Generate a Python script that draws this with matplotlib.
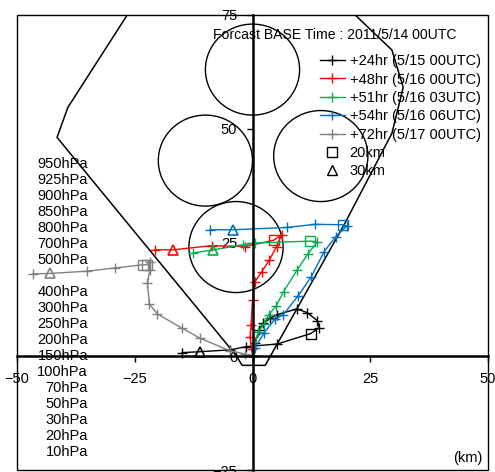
import matplotlib
matplotlib.use("Agg")
import matplotlib.pyplot as plt
from matplotlib.patches import Circle, Rectangle

plt.rcParams['font.family'] = ['Liberation Sans', 'DejaVu Sans']

# hodograph tracks (km), one point per level
black_x = [0, 0.6, 1.4, 2.3, 3.7, 5.1, 9.4, 11.6, 13.8, 14.2, 12.4, 5.3, -1.4, -4.8, -11.1, -15.0]
black_y = [0, 3.0, 5.8, 7.2, 8.3, 9.1, 10.4, 9.6, 7.8, 6.3, 5.0, 2.7, 2.1, 1.4, 1.0, 0.8]
black_sq = [10]
black_tri = [14]

red_x = [0, -0.2, -0.5, -0.3, 0.0, 0.5, 2.0, 3.6, 5.1, 6.2, 4.5, -1.6, -8.7, -16.8, -20.7]
red_y = [0, 1.5, 4.3, 6.9, 12.4, 16.4, 18.6, 21.2, 24.1, 26.7, 25.5, 24.1, 24.3, 23.4, 23.4]
red_sq = [10]
red_tri = [13]

green_x = [0, 1.2, 2.5, 3.4, 5.0, 6.6, 9.5, 11.7, 13.8, 12.2, 0.6, -2.0, -8.3, -12.6]
green_y = [0, 5.4, 7.1, 9.1, 11.0, 14.2, 19.0, 22.4, 25.2, 25.3, 24.9, 24.5, 23.4, 22.7]
green_sq = [9]
green_tri = [12]

blue_x = [0, 0.5, 2.5, 4.8, 6.5, 9.7, 12.5, 15.2, 17.7, 20.0, 19.3, 13.3, 7.3, -4.1, -9.0]
blue_y = [0, 1.8, 5.2, 8.2, 9.1, 13.3, 17.5, 23.0, 26.3, 28.6, 28.9, 29.0, 28.3, 27.8, 27.8]
blue_sq = [10]
blue_tri = [13]

gray_x = [0, -1.6, -4.8, -11.2, -15.0, -20.2, -21.9, -22.3, -21.8, -21.8, -22.4, -23.3, -29.2, -35.1, -43.0, -46.7]
gray_y = [0, 0.5, 1.2, 4.0, 6.2, 9.3, 11.5, 16.0, 19.0, 20.8, 20.1, 20.1, 19.4, 18.7, 18.2, 18.1]
gray_sq = [10, 11]
gray_tri = [14]

labels = ['+24hr (5/15 00UTC)', '+48hr (5/16 00UTC)', '+51hr (5/16 03UTC)',
          '+54hr (5/16 06UTC)', '+72hr (5/17 00UTC)']
colors = ['black', '#ff0000', '#00b050', '#0070c0', '#808080']

# range circles (center x, center y)
circle_cx = [0, -10, 14.5, -3.5]
circle_cy = [63, 43, 44, 24]
circle_r = 10

# boundary outline
edge_x = [-26.6, -39.2, -41.5, -3.5, -2.2, 2.7, 19.6, 29.6, 32.0, 29.6, 21.8]
edge_y = [75, 54.7, 48.1, 0.2, -2.0, -2.0, 29.2, 49.0, 59.1, 67.3, 75]

levels = ['950hPa', '925hPa', '900hPa', '850hPa', '800hPa', '700hPa', '500hPa', '',
          '400hPa', '300hPa', '250hPa', '200hPa', '150hPa', '100hPa', '70hPa',
          '50hPa', '30hPa', '20hPa', '10hPa']

fig = plt.figure(figsize=(4.95, 4.72), dpi=100)
ax = fig.add_axes([17/495, 2/472, 471/495, 455/472])
ax.set_xlim(-50, 50)
ax.set_ylim(-25, 75)

for cx, cy in zip(circle_cx, circle_cy):
    ax.add_patch(Circle((cx, cy), circle_r, fill=False, ec='black', lw=1))
ax.plot(edge_x, edge_y, color='black', lw=1.1)

tracks = [(black_x, black_y, black_sq, black_tri),
          (red_x, red_y, red_sq, red_tri),
          (green_x, green_y, green_sq, green_tri),
          (blue_x, blue_y, blue_sq, blue_tri),
          (gray_x, gray_y, gray_sq, gray_tri)]

for (tx, ty, sq, tri), c, lab in zip(tracks, colors, labels):
    keep = [i for i in range(len(tx)) if i not in sq + tri]
    ax.plot(tx, ty, color=c, lw=1, marker='+', ms=7, mew=1, markevery=keep, label=lab)
    ax.plot([tx[i] for i in sq], [ty[i] for i in sq], 's', ms=7, mfc='none', mec=c, mew=1)
    ax.plot([tx[i] for i in tri], [ty[i] for i in tri], '^', ms=7, mfc='none', mec=c, mew=1.2)

ax.plot([], [], 's', ms=7, mfc='none', mec='black', label='20km')
ax.plot([], [], '^', ms=7, mfc='none', mec='black', label='30km')

for s in ['top', 'right']:
    ax.spines[s].set_visible(False)
ax.spines['left'].set_position(('data', 0))
ax.spines['bottom'].set_position(('data', 0))
ax.spines['left'].set_linewidth(1.8)
ax.spines['bottom'].set_linewidth(1.8)
ax.add_patch(Rectangle((0, 0), 1, 1, transform=ax.transAxes, fill=False, ec='black', lw=1, clip_on=False))

ax.set_xticks([-50, -25, 0, 25, 50])
ax.set_yticks([-25, 0, 25, 50, 75])
ax.tick_params(direction='out', length=4, width=1, pad=7, labelsize=10.5)

ax.text(0.416, 0.956, 'Forcast BASE Time : 2011/5/14 00UTC', transform=ax.transAxes,
        fontsize=10.1, va='center', ha='left')
ax.text(0.989, 0.026, '(km)', transform=ax.transAxes, fontsize=10.5, va='center', ha='right')

for i, lv in enumerate(levels):
    ax.text(0.1507, 0.672 - i * 0.03516, lv, transform=ax.transAxes,
            fontsize=10.5, va='center', ha='right')

ax.legend(loc='upper left', bbox_to_anchor=(0.643, 0.914), frameon=False, fontsize=10.5,
          handlelength=1.7, handletextpad=0.35, labelspacing=0.3, borderpad=0,
          borderaxespad=0)

fig.savefig('out.png', dpi=100)
